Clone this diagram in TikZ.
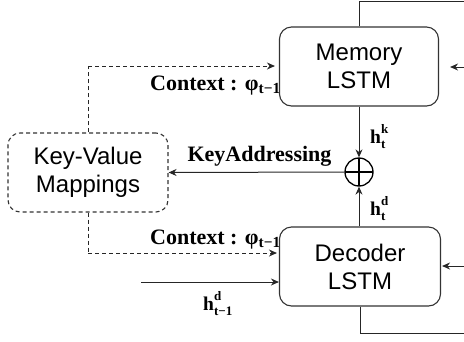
\documentclass[tikz,border=0pt]{standalone}
\usepackage{fontspec}
\setmainfont{Liberation Serif}
\newfontfamily\boxfont{Liberation Sans}
\usetikzlibrary{arrows.meta}

% bold h with stacked super- and subscript
\newcommand\hlab[2]{\textbf{h}\rlap{\raisebox{0.5em}{\fontsize{13}{13}\selectfont\bfseries #1}}\raisebox{-0.3em}{\fontsize{13}{13}\selectfont\bfseries #2}}

\begin{document}
\begin{tikzpicture}[x=1pt,y=-1pt,
  lstm/.style={draw=black!80, line width=1.1pt, rounded corners=12pt, fill=white,
    minimum width=160pt, minimum height=79pt, align=center, inner sep=0pt,
    font=\boxfont\fontsize{24}{28}\selectfont},
  kvbox/.style={lstm, dash pattern=on 4pt off 3pt},
  wire/.style={line width=1pt, draw=black!85},
  arr/.style={wire, -{Stealth[length=8pt,width=7pt]}},
  dwire/.style={wire, dash pattern=on 4pt off 3pt},
  lab/.style={font=\fontsize{22}{22}\selectfont\bfseries, inner sep=0pt},
  hl/.style={font=\fontsize{19.5}{19.5}\selectfont, inner sep=0pt}]
\useasboundingbox (0,0) rectangle (464,341);

% edge labels (drawn first so the boxes overlap them)
\node[lab, anchor=base west] (ctxa) at (150,90) {Context : φ\textsubscript{t−1}};
\node[lab, anchor=base west] (ctxb) at (150,244) {Context : φ\textsubscript{t−1}};
\node[lab, anchor=base] (keyad) at (259.5,161) {KeyAddressing};

% blocks
\node[lstm, minimum width=159pt] (mem) at (359,66.5) {Memory\\LSTM};
\node[lstm, minimum width=161pt] (dec) at (360,266.5) {Decoder\\LSTM};
\node[kvbox] (kv) at (88,172.5) {Key-Value\\Mappings};
\node[circle, draw=black, line width=1.3pt, minimum size=28pt, inner sep=0pt,
  path picture={\draw[line width=1.3pt]
    (path picture bounding box.north) -- (path picture bounding box.south)
    (path picture bounding box.west) -- (path picture bounding box.east);}]
  (plus) at (359,172) {};

% hidden-state labels
\node[hl, anchor=base west] (hk) at (370,143) {\hlab{k}{t}};
\node[hl, anchor=base west] (hd) at (370,215) {\hlab{d}{t}};
\node[hl, anchor=base west] (hprev) at (203,310) {\hlab{d}{t−1}};

% outer loop coordinates
\coordinate (topL) at (359,1);
\coordinate (topR) at (464,1);
\coordinate (botL) at (360,333);
\coordinate (botR) at (464,333);
\coordinate (memIn) at (464,67);
\coordinate (decIn) at (464,266);
\coordinate (prevIn) at (141,282);
\coordinate (kvUp) at (88,66);
\coordinate (kvDown) at (88,253);

% solid connectors
\draw[wire] (mem.north) -- (topL) -- (topR);
\draw[wire] (dec.south -| botL) -- (botL) -- (botR);
\draw[arr] (memIn) -- ([xshift=11pt]mem.east |- memIn);
\draw[arr] (decIn) -- ([xshift=1pt]dec.east |- decIn);
\draw[arr] (mem.south) -- (plus.north);
\draw[arr] (dec.north -| plus) -- (plus.south);
\draw[arr] (plus.west) -- (kv.east);
\draw[arr] (prevIn) -- (dec.west |- prevIn);

% dashed context connectors
\draw[dwire] (kv.north) -- (kvUp);
\draw[dwire, arr, dash pattern=on 4pt off 3pt] (kvUp) -- ([xshift=-4pt]mem.west |- kvUp);
\draw[dwire] (kv.south) -- (kvDown);
\draw[dwire, arr, dash pattern=on 4pt off 3pt] (kvDown) -- ([xshift=-2pt]dec.west |- kvDown);
\end{tikzpicture}
\end{document}
